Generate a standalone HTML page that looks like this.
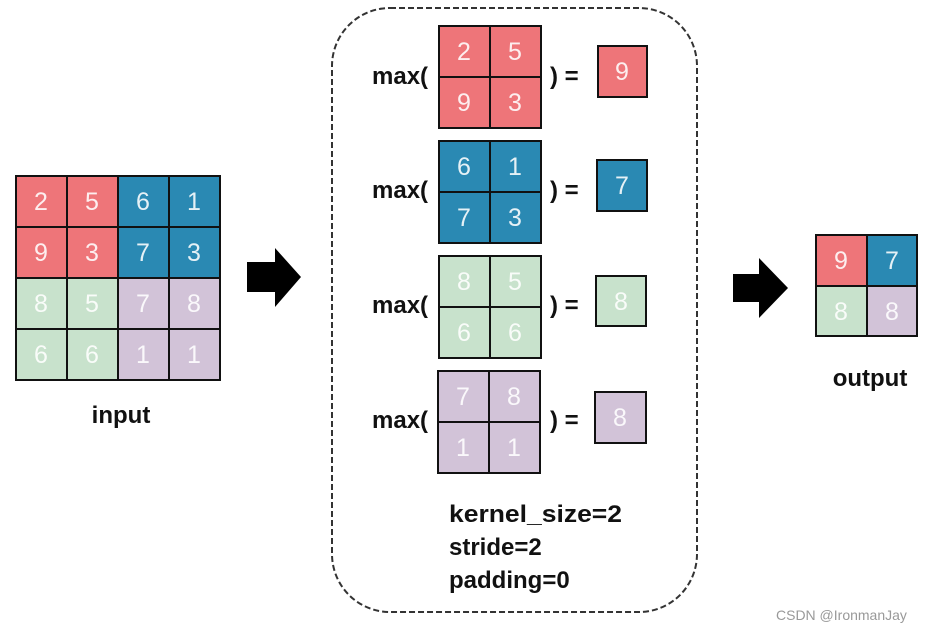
<!DOCTYPE html>
<html><head><meta charset="utf-8"><style>
html,body{margin:0;padding:0;background:#fff;width:946px;height:623px;overflow:hidden}
svg{display:block}
.d{font-family:"Liberation Sans",sans-serif;font-size:25px;fill:#fff;fill-opacity:.88;text-anchor:middle}
.b{font-family:"Liberation Sans",sans-serif;font-weight:bold;font-size:24px;fill:#111}
</style></head><body>
<svg width="946" height="623" viewBox="0 0 946 623" xmlns="http://www.w3.org/2000/svg">
<rect x="0" y="0" width="946" height="623" fill="#fff"/>
<defs>
<g id="c"><rect width="51" height="51" stroke="#111" stroke-width="2"/></g>
</defs>
<!-- input grid -->
<g stroke="#111" stroke-width="2">
<rect x="16" y="176" width="51" height="51" fill="#ee7579"/>
<rect x="67" y="176" width="51" height="51" fill="#ee7579"/>
<rect x="118" y="176" width="51" height="51" fill="#2a89b3"/>
<rect x="169" y="176" width="51" height="51" fill="#2a89b3"/>
<rect x="16" y="227" width="51" height="51" fill="#ee7579"/>
<rect x="67" y="227" width="51" height="51" fill="#ee7579"/>
<rect x="118" y="227" width="51" height="51" fill="#2a89b3"/>
<rect x="169" y="227" width="51" height="51" fill="#2a89b3"/>
<rect x="16" y="278" width="51" height="51" fill="#c8e2cc"/>
<rect x="67" y="278" width="51" height="51" fill="#c8e2cc"/>
<rect x="118" y="278" width="51" height="51" fill="#d2c3d8"/>
<rect x="169" y="278" width="51" height="51" fill="#d2c3d8"/>
<rect x="16" y="329" width="51" height="51" fill="#c8e2cc"/>
<rect x="67" y="329" width="51" height="51" fill="#c8e2cc"/>
<rect x="118" y="329" width="51" height="51" fill="#d2c3d8"/>
<rect x="169" y="329" width="51" height="51" fill="#d2c3d8"/>
</g>
<g class="d">
<text x="41" y="210" class="d">2</text><text x="92" y="210" class="d">5</text><text x="143" y="210" class="d">6</text><text x="194" y="210" class="d">1</text>
<text x="41" y="261" class="d">9</text><text x="92" y="261" class="d">3</text><text x="143" y="261" class="d">7</text><text x="194" y="261" class="d">3</text>
<text x="41" y="312" class="d">8</text><text x="92" y="312" class="d">5</text><text x="143" y="312" class="d">7</text><text x="194" y="312" class="d">8</text>
<text x="41" y="363" class="d">6</text><text x="92" y="363" class="d">6</text><text x="143" y="363" class="d">1</text><text x="194" y="363" class="d">1</text>
</g>
<text x="121" y="423" class="b" text-anchor="middle">input</text>
<!-- arrows -->
<polygon points="247,262 275,262 275,248 301,277 275,307 275,292 247,292" fill="#000"/>
<polygon points="733,274 759,274 759,258 788,288 759,318 759,302 733,302" fill="#000"/>
<!-- dashed box -->
<rect x="332" y="8" width="365" height="604" rx="58" ry="58" fill="none" stroke="#333" stroke-width="2" stroke-dasharray="6,3"/>
<!-- row 1 -->
<g stroke="#111" stroke-width="2">
<rect x="439" y="26" width="51" height="51" fill="#ee7579"/><rect x="490" y="26" width="51" height="51" fill="#ee7579"/>
<rect x="439" y="77" width="51" height="51" fill="#ee7579"/><rect x="490" y="77" width="51" height="51" fill="#ee7579"/>
<rect x="598" y="46" width="49" height="51" fill="#ee7579"/>
<rect x="439" y="141" width="51" height="51" fill="#2a89b3"/><rect x="490" y="141" width="51" height="51" fill="#2a89b3"/>
<rect x="439" y="192" width="51" height="51" fill="#2a89b3"/><rect x="490" y="192" width="51" height="51" fill="#2a89b3"/>
<rect x="597" y="160" width="50" height="51" fill="#2a89b3"/>
<rect x="439" y="256" width="51" height="51" fill="#c8e2cc"/><rect x="490" y="256" width="51" height="51" fill="#c8e2cc"/>
<rect x="439" y="307" width="51" height="51" fill="#c8e2cc"/><rect x="490" y="307" width="51" height="51" fill="#c8e2cc"/>
<rect x="596" y="276" width="50" height="50" fill="#c8e2cc"/>
<rect x="438" y="371" width="51" height="51" fill="#d2c3d8"/><rect x="489" y="371" width="51" height="51" fill="#d2c3d8"/>
<rect x="438" y="422" width="51" height="51" fill="#d2c3d8"/><rect x="489" y="422" width="51" height="51" fill="#d2c3d8"/>
<rect x="595" y="392" width="51" height="51" fill="#d2c3d8"/>
</g>
<g>
<text x="464" y="60" class="d">2</text><text x="515" y="60" class="d">5</text><text x="464" y="111" class="d">9</text><text x="515" y="111" class="d">3</text><text x="622" y="80" class="d">9</text>
<text x="464" y="175" class="d">6</text><text x="515" y="175" class="d">1</text><text x="464" y="226" class="d">7</text><text x="515" y="226" class="d">3</text><text x="622" y="194" class="d">7</text>
<text x="464" y="290" class="d">8</text><text x="515" y="290" class="d">5</text><text x="464" y="341" class="d">6</text><text x="515" y="341" class="d">6</text><text x="621" y="310" class="d">8</text>
<text x="463" y="405" class="d">7</text><text x="514" y="405" class="d">8</text><text x="463" y="456" class="d">1</text><text x="514" y="456" class="d">1</text><text x="620" y="426" class="d">8</text>
</g>
<g class="b">
<text x="372" y="84" class="b">max(</text><text x="550" y="84" class="b">) =</text>
<text x="372" y="198" class="b">max(</text><text x="550" y="198" class="b">) =</text>
<text x="372" y="313" class="b">max(</text><text x="550" y="313" class="b">) =</text>
<text x="372" y="428" class="b">max(</text><text x="550" y="428" class="b">) =</text>
<text x="449" y="522" class="b" textLength="173" lengthAdjust="spacingAndGlyphs">kernel_size=2</text>
<text x="449" y="555" class="b">stride=2</text>
<text x="449" y="588" class="b">padding=0</text>
</g>
<!-- output -->
<g stroke="#111" stroke-width="2">
<rect x="816" y="235" width="51" height="51" fill="#ee7579"/><rect x="867" y="235" width="50" height="51" fill="#2a89b3"/>
<rect x="816" y="286" width="51" height="50" fill="#c8e2cc"/><rect x="867" y="286" width="50" height="50" fill="#d2c3d8"/>
</g>
<text x="841" y="269" class="d">9</text><text x="892" y="269" class="d">7</text>
<text x="841" y="320" class="d">8</text><text x="892" y="320" class="d">8</text>
<text x="870" y="386" class="b" text-anchor="middle">output</text>
<text x="776" y="620" font-family="Liberation Sans,sans-serif" font-size="14" fill="#999">CSDN @IronmanJay</text>
</svg>
</body></html>
